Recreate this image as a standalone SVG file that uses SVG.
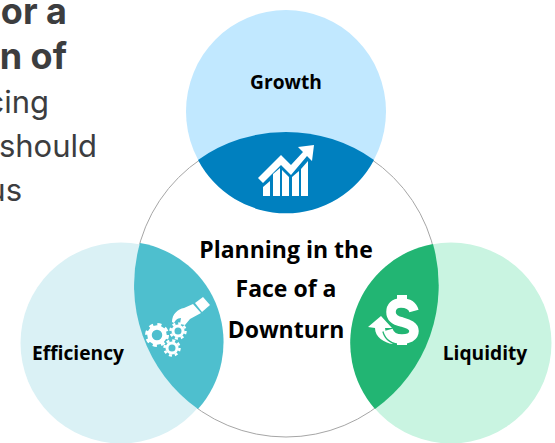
<svg xmlns="http://www.w3.org/2000/svg" width="555" height="443" viewBox="0 0 555 443">
<style>
text{font-family:"Open Sans","Noto Sans",sans-serif;font-weight:700;fill:#000;text-anchor:middle}
.lab{font-size:19.200px}
.c{font-size:23px}
.h{font-family:Inter,"Liberation Sans",sans-serif;fill:#3c3d3f;text-anchor:end;font-size:36px}
.b{font-family:Inter,"Liberation Sans",sans-serif;fill:#3c3d3f;text-anchor:end;font-size:31px;font-weight:400}
.w{fill:#fff}
.teeth{fill:none;stroke:#fff}
</style>
<rect width="555" height="443" fill="#fff"/>
<g id="intro">
<text class="h" x="67" y="24">or a</text>
<text class="h" x="67" y="69">n of</text>
<text class="b" x="49" y="113">cing</text>
<text class="b" x="97" y="157">should</text>
<text class="b" x="22" y="201">us</text>
</g>
<g id="center"><circle cx="286" cy="285" r="152" fill="#fff" stroke="#a6a6a6" stroke-width="1"/>
<text class="c" x="286" y="258">Planning in the</text>
<text class="c" x="286" y="297">Face of a</text>
<text class="c" x="286" y="338">Downturn</text></g>
<g id="growth"><ellipse cx="286" cy="111.500" rx="100" ry="101.500" fill="#c1e8ff"/>
<path d="M198 160A152 152 0 0 1 374 160A100 101.500 0 0 1 198 160Z" fill="#0080bf"/>
<text class="lab" x="286" y="89">Growth</text>
<g class="w"><path d="M258 178L281 155L291 165L303 152L298 147L314 145L312 161L307 156L291 175L281 165L263 183Z"/><path d="M263 187L270 181V196H263ZM273 174L280 168V196H273ZM282 170L289 177V196H282ZM292 177L299 171V196H292ZM301 169L308 161V196H301Z"/></g></g>
<g id="efficiency"><circle cx="121" cy="343" r="100.500" fill="#daf1f5"/>
<path d="M140 243A152 152 0 0 0 198 409A100.500 100.500 0 0 0 140 243Z" fill="#4ebfce"/>
<text class="lab" x="78" y="360">Efficiency</text>
<g class="w"><g id="gear-large"><circle cx="157" cy="335" r="7.500" fill="none" stroke="#fff" stroke-width="4.500"/><circle class="teeth" cx="157" cy="335" r="10.500" stroke-width="3" stroke-dasharray="4.100 4.150"/></g>
<circle cx="178" cy="331" r="5" fill="none" stroke="#fff" stroke-width="3"/><circle class="teeth" cx="178" cy="331" r="7.500" stroke-width="2.500" stroke-dasharray="3 2.890"/>
<circle cx="172" cy="348" r="5" fill="none" stroke="#fff" stroke-width="3"/><circle class="teeth" cx="172" cy="348" r="7.500" stroke-width="2.500" stroke-dasharray="3 2.890"/>
<path d="M172 322C172 314 178 309 184 308L193 304L201 313L190 319L185 325L180 324L181 318C177 318 175 321 174 323Z"/><path d="M195 303L203 297L210 305L202 312Z"/></g></g>
<g id="liquidity"><circle cx="451" cy="343" r="100.500" fill="#c9f4e1"/>
<path d="M433 244A152 152 0 0 1 375 409A100.500 100.500 0 0 1 433 244Z" fill="#22b573"/>
<text class="lab" x="485" y="360">Liquidity</text>
<g><path class="w" d="M368 327L381 316L392 328L385 328C386 334 388 339 393 344C384 343 375 337 375 328Z"/>
<path d="M414 311C412 304 406 303 401 303C394 303 391 307 391 312C391 319 397 321 402 322C409 324 414 326 414 331C414 337 408 339 402 339C396 339 390 337 388 330" fill="none" stroke="#22b573" stroke-width="12"/>
<path d="M414 311C412 304 406 303 401 303C394 303 391 307 391 312C391 319 397 321 402 322C409 324 414 326 414 331C414 337 408 339 402 339C396 339 390 337 388 330" fill="none" stroke="#fff" stroke-width="9.500"/>
<path class="w" d="M397 295H407V302H397ZM397 338H407V345H397Z"/></g></g>
</svg>
